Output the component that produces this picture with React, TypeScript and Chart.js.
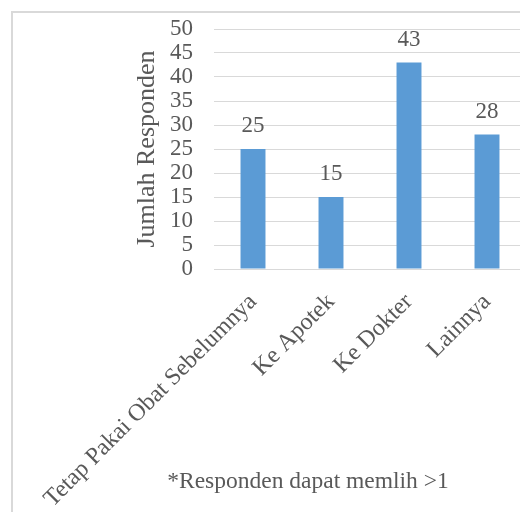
import { useEffect, useRef } from "react";
import { Chart, registerables } from "chart.js";

Chart.register(...registerables);

// Survey answers: what respondents do next
const categories = ["Tetap Pakai Obat Sebelumnya", "Ke Apotek", "Ke Dokter", "Lainnya"];
const responden = [25, 15, 43, 28];
const yTitle = "Jumlah Responden";
const footnote = "*Responden dapat memlih >1";
const yMin = 0;
const yMax = 50;
const yStep = 5;

const FONT = "'Liberation Serif', 'Times New Roman', serif";
const TEXT = "#595959";
const GRID = "#d9d9d9";
const BAR = "#5b9bd5";

const W = 540;
const H = 512;

// Value printed above each bar
const valueLabels = {
  id: "valueLabels",
  afterDatasetsDraw(chart: any) {
    const { ctx } = chart;
    const meta = chart.getDatasetMeta(0);
    ctx.save();
    ctx.font = `23px ${FONT}`;
    ctx.fillStyle = TEXT;
    ctx.textAlign = "center";
    ctx.textBaseline = "middle";
    meta.data.forEach((bar: any, i: number) => {
      ctx.fillText(String(responden[i]), bar.x, bar.y - 23);
    });
    ctx.restore();
  },
};

// Note underneath the category labels
const footnotePlugin = {
  id: "footnote",
  afterDraw(chart: any) {
    const { ctx } = chart;
    ctx.save();
    ctx.font = `23.5px ${FONT}`;
    ctx.fillStyle = TEXT;
    ctx.textAlign = "center";
    ctx.textBaseline = "alphabetic";
    ctx.fillText(footnote, 308, 488);
    ctx.restore();
  },
};

export default function App() {
  const canvasRef = useRef<HTMLCanvasElement | null>(null);

  useEffect(() => {
    if (!canvasRef.current) return;
    const chart = new Chart(canvasRef.current, {
      type: "bar",
      data: {
        labels: categories,
        datasets: [
          {
            data: responden,
            backgroundColor: BAR,
            borderWidth: 0,
            barPercentage: 0.32,
            categoryPercentage: 1,
          },
        ],
      },
      options: {
        responsive: false,
        animation: false,
        layout: { padding: { top: 29, right: 14, bottom: 0, left: 0 } },
        plugins: {
          legend: { display: false },
          tooltip: { enabled: false },
        },
        scales: {
          x: {
            grid: { display: false },
            border: { display: false },
            ticks: {
              autoSkip: false,
              maxRotation: 45,
              minRotation: 45,
              padding: 11,
              color: TEXT,
              font: { family: FONT, size: 24 },
            },
            afterFit(scale: any) {
              scale.height = 243;
            },
          },
          y: {
            min: yMin,
            max: yMax,
            grid: { color: GRID, lineWidth: 1, drawTicks: false },
            border: { display: false },
            ticks: {
              stepSize: yStep,
              autoSkip: false,
              padding: 21,
              color: TEXT,
              font: { family: FONT, size: 23 },
            },
            title: {
              display: true,
              text: yTitle,
              color: TEXT,
              font: { family: FONT, size: 26, lineHeight: 1.2 },
              padding: { top: 132, bottom: 0 },
            },
            afterFit(scale: any) {
              scale.width = 214;
              // the outer layout padding already leaves room for the top label
              scale.paddingTop = 0;
              scale.paddingBottom = 0;
            },
          },
        },
      },
      plugins: [valueLabels, footnotePlugin],
    });
    return () => chart.destroy();
  }, []);

  return (
    <div
      style={{
        position: "fixed",
        left: 0,
        top: 0,
        width: 520,
        height: 512,
        overflow: "hidden",
        background: "#ffffff",
      }}
    >
      <div
        style={{
          position: "absolute",
          left: 11,
          top: 11,
          width: 600,
          height: 600,
          border: `2px solid ${GRID}`,
        }}
      />
      <canvas
        ref={canvasRef}
        width={W}
        height={H}
        style={{ position: "absolute", left: 0, top: 0, display: "block" }}
      />
    </div>
  );
}
